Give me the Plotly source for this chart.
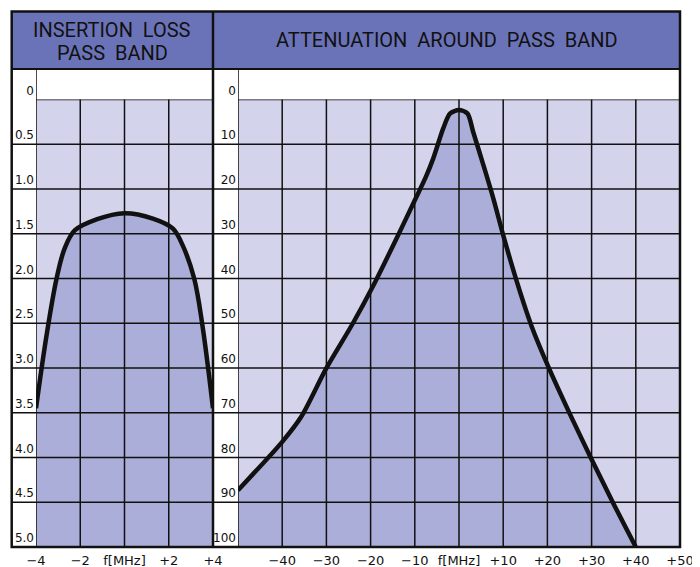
import plotly.graph_objects as go

# ---------------- data ----------------
# Left panel: insertion loss in the pass band
pass_freq = [-4.0, -3.52, -3.07, -2.7, -2.24, -1.27, 0.0, 1.28, 2.18, 2.63, 3.15, 3.52, 4.0]
pass_loss = [3.45, 2.63, 2.0, 1.66, 1.46, 1.34, 1.27, 1.33, 1.44, 1.63, 2.0, 2.52, 3.45]
pass_floor = 5.0

# Right panel: attenuation around the pass band
att_freq = [-50, -40, -35.7, -30.1, -24, -19.5, -14.3, -10, -7.5, -5.8, -3.55, -2.0, 0,
            1.9, 3.2, 5.5, 7.76, 10, 13.05, 16.4, 20.2, 25.1, 29.9, 34.9, 40]
att_db = [87.3, 76.5, 70.9, 60.2, 50.0, 41.8, 31.4, 22.5, 17.3, 13.1, 6.4, 3.1, 2.35,
          3.1, 7.2, 14.6, 22.1, 30.3, 40.6, 50.6, 59.7, 70.3, 80.2, 90.2, 100]
att_floor = 100

# tick values / labels
left_yvals = [0, 0.5, 1.0, 1.5, 2.0, 2.5, 3.0, 3.5, 4.0, 4.5, 5.0]
left_ylabels = ["0", "0.5", "1.0", "1.5", "2.0", "2.5", "3.0", "3.5", "4.0", "4.5", "5.0"]
right_yvals = [0, 10, 20, 30, 40, 50, 60, 70, 80, 90, 100]
right_ylabels = ["0", "10", "20", "30", "40", "50", "60", "70", "80", "90", "100"]
left_xvals = [-4, -2, 0, 2, 4]
left_xlabels = ["\u22124", "\u22122", "f[MHz]", "+2", "+4"]
right_xgrid = [-50, -40, -30, -20, -10, 0, 10, 20, 30, 40, 50]
right_xvals = [-40, -30, -20, -10, 0, 10, 20, 30, 40, 50]
right_xlabels = ["\u221240", "\u221230", "\u221220", "\u221210", "f[MHz]", "+10", "+20", "+30", "+40", "+50"]

title_left_1 = "INSERTION\u00a0\u00a0LOSS"
title_left_2 = "PASS\u00a0\u00a0BAND"
title_right = "ATTENUATION\u00a0\u00a0AROUND\u00a0\u00a0PASS\u00a0\u00a0BAND"

# ---------------- styling / geometry ----------------
OFF = 8          # page body margin of the html page
W, H = 700, 567  # figure size
HEADER = "#6b73b8"
CELL = "#d3d4ec"
FILL = "#abaed8"
INK = "#111111"

# layout positions in window pixels
FRAME_L, FRAME_R, FRAME_T, FRAME_B = 11.7, 680.0, 11.5, 547.0
HEAD_B, GRID_T = 69.0, 99.5
L_COL, DIV, R_COL = 36.0, 213.0, 238.0


def px(x):
    return (x - OFF) / W


def py(y):
    return 1 - (y - OFF) / H


fig = go.Figure()

# left panel
fig.add_trace(go.Scatter(x=[pass_freq[0], pass_freq[-1]], y=[pass_floor, pass_floor],
                         mode="lines", line=dict(width=0), hoverinfo="skip",
                         showlegend=False, xaxis="x", yaxis="y"))
fig.add_trace(go.Scatter(x=pass_freq, y=pass_loss, mode="lines",
                         line=dict(color=INK, width=4.5, shape="spline", smoothing=1.0),
                         fill="tonexty", fillcolor=FILL, showlegend=False,
                         xaxis="x", yaxis="y"))
# right panel
fig.add_trace(go.Scatter(x=[att_freq[0], att_freq[-1]], y=[att_floor, att_floor],
                         mode="lines", line=dict(width=0), hoverinfo="skip",
                         showlegend=False, xaxis="x2", yaxis="y2"))
fig.add_trace(go.Scatter(x=att_freq, y=att_db, mode="lines",
                         line=dict(color=INK, width=4.5, shape="spline", smoothing=0.8),
                         fill="tonexty", fillcolor=FILL, showlegend=False,
                         xaxis="x2", yaxis="y2"))

shapes = []
# header band
shapes.append(dict(type="rect", xref="paper", yref="paper",
                   x0=px(FRAME_L), x1=px(FRAME_R), y0=py(HEAD_B), y1=py(FRAME_T),
                   fillcolor=HEADER, line=dict(width=0), layer="below"))

GL = dict(color=INK, width=1.5)
# horizontal grid lines
for v in left_yvals[:-1]:
    x0 = L_COL if v == left_yvals[0] else FRAME_L
    shapes.append(dict(type="line", xref="paper", yref="y", x0=px(x0), x1=px(DIV),
                       y0=v, y1=v, line=GL, layer="above"))
for v in right_yvals[:-1]:
    x0 = R_COL if v == right_yvals[0] else DIV
    shapes.append(dict(type="line", xref="paper", yref="y2", x0=px(x0), x1=px(FRAME_R),
                       y0=v, y1=v, line=GL, layer="above"))
# vertical grid lines
for v in left_xvals[:-1]:
    top = HEAD_B if v == left_xvals[0] else GRID_T
    shapes.append(dict(type="line", xref="x", yref="paper", x0=v, x1=v,
                       y0=py(FRAME_B), y1=py(top), line=GL, layer="above"))
for v in right_xgrid[:-1]:
    top = HEAD_B if v == right_xgrid[0] else GRID_T
    shapes.append(dict(type="line", xref="x2", yref="paper", x0=v, x1=v,
                       y0=py(FRAME_B), y1=py(top), line=GL, layer="above"))
# divider, header bottom, outer frame
shapes.append(dict(type="line", xref="paper", yref="paper", x0=px(DIV), x1=px(DIV),
                   y0=py(FRAME_B), y1=py(FRAME_T), line=dict(color=INK, width=2.5), layer="above"))
shapes.append(dict(type="line", xref="paper", yref="paper", x0=px(FRAME_L), x1=px(FRAME_R),
                   y0=py(HEAD_B), y1=py(HEAD_B), line=dict(color=INK, width=2.2), layer="above"))
shapes.append(dict(type="rect", xref="paper", yref="paper", x0=px(FRAME_L), x1=px(FRAME_R),
                   y0=py(FRAME_B), y1=py(FRAME_T), line=dict(color=INK, width=2.5),
                   fillcolor="rgba(0,0,0,0)", layer="above"))

TF = dict(family="Roboto, DejaVu Sans, sans-serif", size=20, color=INK)
annotations = [
    dict(text=title_left_1, xref="paper", yref="paper", x=px((FRAME_L + DIV) / 2), y=py(29.5),
         showarrow=False, font=TF, xanchor="center", yanchor="middle"),
    dict(text=title_left_2, xref="paper", yref="paper", x=px((FRAME_L + DIV) / 2), y=py(53),
         showarrow=False, font=TF, xanchor="center", yanchor="middle"),
    dict(text=title_right, xref="paper", yref="paper", x=px((DIV + FRAME_R) / 2), y=py(40.5),
         showarrow=False, font=TF, xanchor="center", yanchor="middle"),
]

YD = [py(FRAME_B), py(GRID_T)]
YTF = dict(family="DejaVu Sans, sans-serif", size=12, color=INK)
XTF = dict(family="DejaVu Sans, sans-serif", size=13, color=INK)
AX = dict(showgrid=False, zeroline=False, showline=False, ticks="", automargin=False,
          ticklabeloverflow="allow")

fig.update_layout(
    template="none",
    width=W, height=H,
    margin=dict(l=0, r=0, t=0, b=0, pad=0),
    paper_bgcolor="white", plot_bgcolor=CELL,
    shapes=shapes, annotations=annotations,
    xaxis=dict(domain=[px(L_COL), px(DIV)], range=[-4, 4], anchor="y",
               tickvals=left_xvals, ticktext=left_xlabels, tickfont=XTF,
               ticklabelstandoff=4, **AX),
    yaxis=dict(domain=YD, range=[5, 0], anchor="x",
               tickvals=left_yvals, ticktext=left_ylabels, tickfont=YTF,
               ticklabelshift=9, ticklabelstandoff=1, **AX),
    xaxis2=dict(domain=[px(R_COL), px(FRAME_R)], range=[-50, 50], anchor="y2",
                tickvals=right_xvals, ticktext=right_xlabels, tickfont=XTF,
                ticklabelstandoff=4, **AX),
    yaxis2=dict(domain=YD, range=[100, 0], anchor="x2",
                tickvals=right_yvals, ticktext=right_ylabels, tickfont=YTF,
                ticklabelshift=9, ticklabelstandoff=1, **AX),
)

fig.write_html("out.html")
